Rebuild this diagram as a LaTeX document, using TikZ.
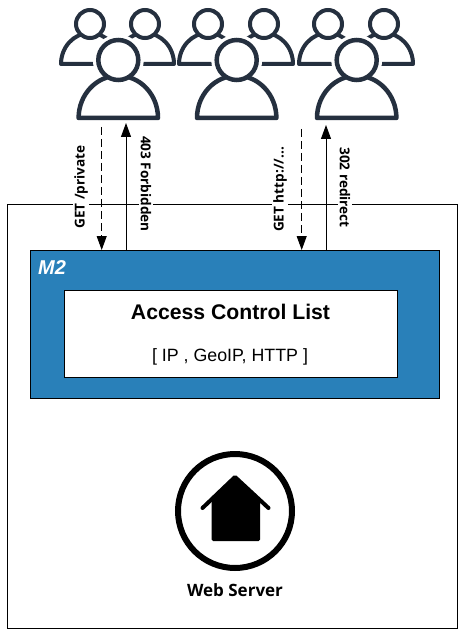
\documentclass[tikz,border=0pt]{standalone}
\usepackage{fontspec}
\setmainfont{Liberation Sans}
\newfontfamily\labelfont{Open Sans}
\usepackage{xcolor}
\usetikzlibrary{positioning}
\usetikzlibrary{arrows.meta}
\usetikzlibrary{calc}

\definecolor{persondark}{HTML}{25303F}
\definecolor{m2blue}{HTML}{2980B9}

\tikzset{
	box/.style={draw=black, line width=1pt, inner sep=0pt},
	msglabel/.style={fill=white, inner sep=1.5pt, font=\labelfont\bfseries\fontsize{13.6}{15}\selectfont},
	msgarrow/.style={line width=0.9pt, -{Triangle[length=14pt,width=10pt]}},
	reqarrow/.style={msgarrow, dash pattern=on 8pt off 4pt},
	smallperson/.pic={
		\draw[persondark, line width=4pt, line join=round] (-29,40) arc[start angle=-180, end angle=0, x radius=29, y radius=31] -- cycle;
		\draw[persondark, line width=4pt, fill=white] (0,0) circle (14);
	},
	bigperson/.pic={
		\fill[white] (0,0) circle (25.5);
		\draw[persondark, line width=4.5pt, line join=round, fill=white] (-39.7,58) arc[start angle=-180, end angle=0, x radius=39.7, y radius=42.3] -- cycle;
		\draw[persondark, line width=4.5pt, fill=white] (0,0) circle (20);
	}
}

\begin{document}
\begin{tikzpicture}[x=1pt, y=-1pt]
	\useasboundingbox (0,0) rectangle (462,636);
%persons
	\foreach \x in {90, 145, 208, 264, 328, 384}{
		\pic at (\x, 24) {smallperson};
	}
	\foreach \x in {118.3, 236.7, 356.7}{
		\pic at (\x, 60) {bigperson};
	}

%boxes
	\node[box, minimum width=450pt, minimum height=423pt] (frame) at (232, 416.5) {};
	\node[box, fill=m2blue, minimum width=408.5pt, minimum height=147.5pt] (m2) at (234.75, 324.25) {};
	\node[box, fill=white, minimum width=332.5pt, minimum height=87pt] (acl) at (230.75, 334) {};

	\node[text=white, font=\fontsize{20}{22}\selectfont\bfseries\itshape, anchor=west, inner sep=0pt] (m2name) at (38, 268) {M2};
	\node[font=\fontsize{21.2}{24}\selectfont\bfseries, inner sep=0pt] (acltitle) at (230.5, 311.5) {Access Control List};
	\node[font=\fontsize{17.8}{20}\selectfont, inner sep=0pt] (acllist) at (230, 356.5) {[ IP , GeoIP, HTTP ]};

%messages
	\foreach \x/\y/\r/\name/\txt in {81/187/90/getprivate/{GET /private}, 146/184/-90/forbidden/{403 Forbidden}, 280/189.5/90/gethttp/{GET http://...}, 345/187.5/-90/redirect/{302 redirect}}{
		\node[msglabel, rotate=\r] (\name) at (\x, \y) {\txt};
	}

	\coordinate (req1) at (101.7, 127);
	\coordinate (res1) at (126, 123);
	\coordinate (req2) at (301.7, 129);
	\coordinate (res2) at (326, 125);

	\draw[reqarrow] (req1) -- (req1 |- m2.north);
	\draw[msgarrow] (res1 |- m2.north) -- (res1);
	\draw[reqarrow] (req2) -- (req2 |- m2.north);
	\draw[msgarrow] (res2 |- m2.north) -- (res2);

%web server
	\draw[black, line width=6pt] (235, 511) circle (57);
	\fill[black, rounded corners=1.5pt] (211.7, 500) -- (235, 476) -- (260, 500) -- (260, 541) -- (211.7, 541) -- cycle;
	\draw[black, line width=4pt, line cap=round, line join=round] (202.5, 508) -- (235, 477) -- (268.5, 508);
	\node[font=\labelfont\bfseries\fontsize{17}{19}\selectfont, inner sep=0pt] (webserver) at (235, 590.5) {Web Server};
\end{tikzpicture}
\end{document}
